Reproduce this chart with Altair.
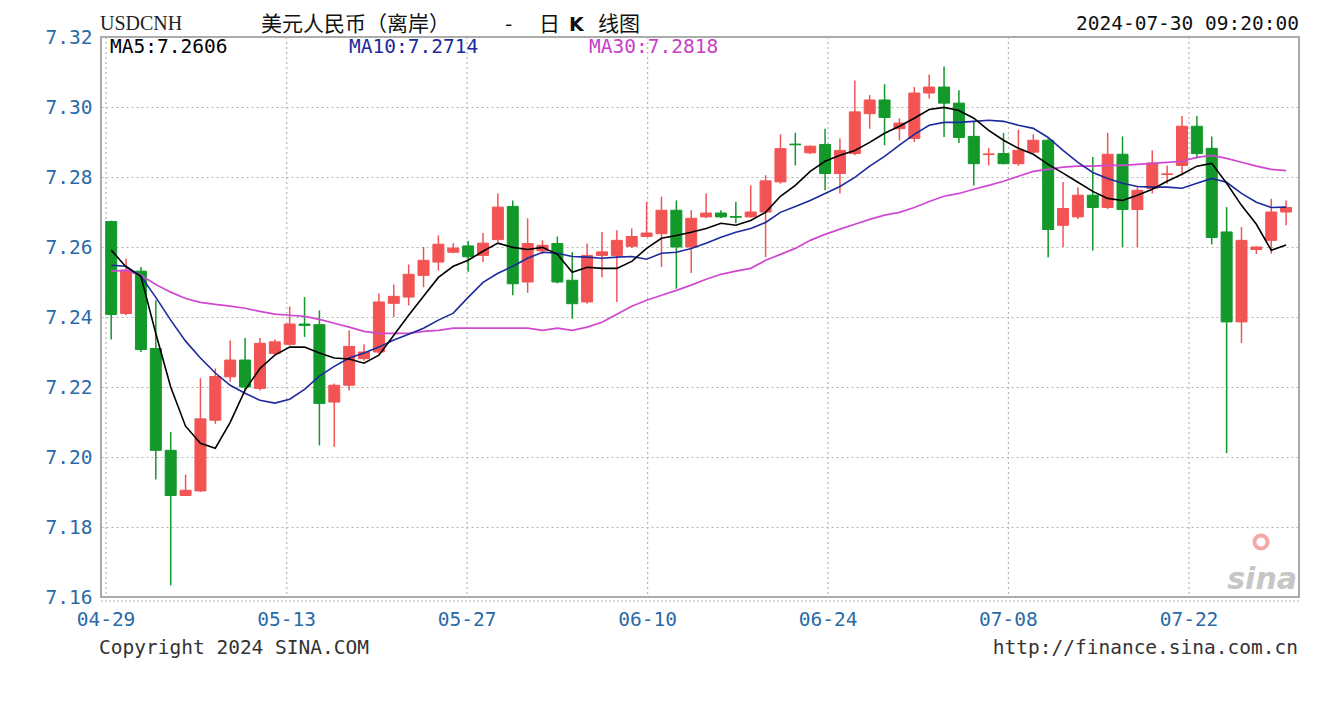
import altair as alt
import pandas as pd

# ---------------- data ----------------
opens = [7.2673, 7.2410, 7.2531, 7.2310, 7.2019, 7.1890, 7.1903, 7.2105, 7.2229, 7.2277,
         7.2196, 7.2296, 7.2322, 7.2380, 7.2378, 7.2157, 7.2205, 7.2281, 7.2300, 7.2439,
         7.2457, 7.2519, 7.2557, 7.2585, 7.2603, 7.2576, 7.2621, 7.2716, 7.2500, 7.2589,
         7.2610, 7.2505, 7.2443, 7.2576, 7.2576, 7.2602, 7.2630, 7.2638, 7.2705, 7.2600,
         7.2686, 7.2697, 7.2687, 7.2686, 7.2700, 7.2786, 7.2894, 7.2869, 7.2893, 7.2810,
         7.2867, 7.2981, 7.3020, 7.2938, 7.2910, 7.3040, 7.3057, 7.3011, 7.2916, 7.2864,
         7.2867, 7.2838, 7.2871, 7.2905, 7.2662, 7.2686, 7.2748, 7.2713, 7.2865, 7.2707,
         7.2767, 7.2807, 7.2833, 7.2945, 7.2882, 7.2643, 7.2386, 7.2593, 7.2619, 7.2700]

closes = [7.2407, 7.2534, 7.2307, 7.2019, 7.1890, 7.1905, 7.2109, 7.2230, 7.2277, 7.2200,
          7.2325, 7.2329, 7.2380, 7.2376, 7.2153, 7.2205, 7.2316, 7.2300, 7.2443, 7.2459,
          7.2522, 7.2562, 7.2608, 7.2597, 7.2572, 7.2611, 7.2714, 7.2495, 7.2610, 7.2605,
          7.2500, 7.2438, 7.2576, 7.2586, 7.2619, 7.2630, 7.2640, 7.2705, 7.2600, 7.2682,
          7.2697, 7.2686, 7.2685, 7.2700, 7.2789, 7.2881, 7.2892, 7.2888, 7.2810, 7.2876,
          7.2986, 7.3020, 7.2970, 7.2954, 7.3040, 7.3057, 7.3011, 7.2913, 7.2838, 7.2866,
          7.2838, 7.2876, 7.2905, 7.2650, 7.2710, 7.2748, 7.2713, 7.2865, 7.2707, 7.2762,
          7.2840, 7.2809, 7.2945, 7.2867, 7.2627, 7.2386, 7.2619, 7.2600, 7.2700, 7.2713]

highs = [7.2675, 7.2567, 7.2543, 7.2448, 7.2071, 7.1950, 7.2225, 7.2253, 7.2333, 7.2340,
         7.2340, 7.2336, 7.2430, 7.2457, 7.2419, 7.2210, 7.2362, 7.2322, 7.2467, 7.2493,
         7.2550, 7.2600, 7.2633, 7.2611, 7.2617, 7.2640, 7.2753, 7.2733, 7.2682, 7.2619,
         7.2630, 7.2586, 7.2610, 7.2643, 7.2648, 7.2653, 7.2729, 7.2744, 7.2733, 7.2705,
         7.2753, 7.2705, 7.2729, 7.2776, 7.2805, 7.2922, 7.2926, 7.2890, 7.2938, 7.2910,
         7.3076, 7.3034, 7.3065, 7.2967, 7.3057, 7.3093, 7.3116, 7.3048, 7.2957, 7.2883,
         7.2926, 7.2935, 7.2922, 7.2910, 7.2786, 7.2771, 7.2857, 7.2926, 7.2916, 7.2771,
         7.2876, 7.2833, 7.2974, 7.2974, 7.2916, 7.2714, 7.2657, 7.2602, 7.2738, 7.2733]

lows = [7.2336, 7.2405, 7.2300, 7.1936, 7.1633, 7.1890, 7.1900, 7.2095, 7.2215, 7.2190,
        7.2190, 7.2290, 7.2318, 7.2343, 7.2033, 7.2029, 7.2190, 7.2275, 7.2295, 7.2400,
        7.2433, 7.2485, 7.2533, 7.2582, 7.2529, 7.2557, 7.2614, 7.2462, 7.2469, 7.2580,
        7.2496, 7.2395, 7.2438, 7.2513, 7.2443, 7.2597, 7.2628, 7.2543, 7.2481, 7.2526,
        7.2683, 7.2683, 7.2668, 7.2684, 7.2571, 7.2781, 7.2833, 7.2866, 7.2762, 7.2753,
        7.2862, 7.2938, 7.2891, 7.2905, 7.2900, 7.3024, 7.2914, 7.2897, 7.2776, 7.2833,
        7.2836, 7.2832, 7.2868, 7.2570, 7.2600, 7.2680, 7.2590, 7.2708, 7.2600, 7.2600,
        7.2753, 7.2781, 7.2805, 7.2853, 7.2607, 7.2011, 7.2326, 7.2580, 7.2581, 7.2662]

ma5 = [7.2591, 7.2543, 7.2516, 7.2353, 7.2200, 7.2088, 7.2039, 7.2025, 7.2099, 7.2191,
       7.2253, 7.2291, 7.2314, 7.2314, 7.2297, 7.2283, 7.2280, 7.2268, 7.2291, 7.2348,
       7.2405, 7.2459, 7.2513, 7.2545, 7.2562, 7.2588, 7.2611, 7.2599, 7.2593, 7.2599,
       7.2579, 7.2528, 7.2542, 7.2539, 7.2539, 7.2559, 7.2596, 7.2625, 7.2633, 7.2642,
       7.2653, 7.2668, 7.2662, 7.2676, 7.2699, 7.2745, 7.2776, 7.2816, 7.2845, 7.2862,
       7.2876, 7.2899, 7.2925, 7.2945, 7.2968, 7.2993, 7.2999, 7.2990, 7.2968, 7.2933,
       7.2905, 7.2882, 7.2865, 7.2836, 7.2811, 7.2785, 7.2759, 7.2739, 7.2733, 7.2748,
       7.2765, 7.2788, 7.2808, 7.2831, 7.2839, 7.2782, 7.2719, 7.2665, 7.2591, 7.2606]

ma10 = [7.2548, 7.2545, 7.2516, 7.2456, 7.2391, 7.2331, 7.2283, 7.2240, 7.2205, 7.2182,
        7.2162, 7.2154, 7.2165, 7.2193, 7.2231, 7.2259, 7.2283, 7.2297, 7.2314, 7.2334,
        7.2351, 7.2368, 7.2391, 7.2411, 7.2456, 7.2499, 7.2525, 7.2545, 7.2568, 7.2585,
        7.2582, 7.2573, 7.2571, 7.2568, 7.2571, 7.2573, 7.2565, 7.2582, 7.2585, 7.2596,
        7.2611, 7.2628, 7.2642, 7.2653, 7.2670, 7.2699, 7.2716, 7.2733, 7.2753, 7.2773,
        7.2799, 7.2831, 7.2859, 7.2891, 7.2922, 7.2948, 7.2956, 7.2956, 7.2959, 7.2962,
        7.2959, 7.2948, 7.2939, 7.2913, 7.2876, 7.2842, 7.2813, 7.2796, 7.2782, 7.2773,
        7.2771, 7.2771, 7.2768, 7.2782, 7.2796, 7.2785, 7.2753, 7.2728, 7.2713, 7.2714]

ma30 = [7.2531, 7.2533, 7.2519, 7.2493, 7.2471, 7.2453, 7.2442, 7.2436, 7.2431, 7.2425,
        7.2416, 7.2408, 7.2405, 7.2402, 7.2393, 7.2382, 7.2371, 7.2359, 7.2353, 7.2353,
        7.2353, 7.2359, 7.2362, 7.2368, 7.2368, 7.2368, 7.2368, 7.2368, 7.2368, 7.2362,
        7.2368, 7.2362, 7.2371, 7.2385, 7.2408, 7.2431, 7.2448, 7.2462, 7.2476, 7.2491,
        7.2508, 7.2522, 7.2531, 7.2539, 7.2562, 7.2579, 7.2596, 7.2619, 7.2636, 7.2651,
        7.2665, 7.2679, 7.2691, 7.2699, 7.2713, 7.2730, 7.2745, 7.2753, 7.2765, 7.2776,
        7.2788, 7.2802, 7.2816, 7.2822, 7.2828, 7.2831, 7.2831, 7.2833, 7.2833, 7.2836,
        7.2839, 7.2842, 7.2845, 7.2856, 7.2862, 7.2853, 7.2842, 7.2831, 7.2822, 7.2818]

date_labels = ["04-29", "05-13", "05-27", "06-10", "06-24", "07-08", "07-22"]
date_pos = [-0.35, 11.8, 23.93, 36.07, 48.2, 60.33, 72.47]
y_ticks = [7.16, 7.18, 7.20, 7.22, 7.24, 7.26, 7.28, 7.30, 7.32]

# ---------------- styling ----------------
RED = "#f25454"
GREEN = "#13982a"
BLUE_LBL = "#2a6aa8"
MA5_C = "#000000"
MA10_C = "#1c2a9c"
MA30_C = "#d048d0"
GRID = "#b4b4b4"
MONO = "DejaVu Sans Mono"
CJK = "Noto Sans CJK SC"
W, H = 1198, 560

n = len(opens)
df = pd.DataFrame({
    "i": list(range(n)), "open": opens, "high": highs, "low": lows, "close": closes,
    "ma5": ma5, "ma10": ma10, "ma30": ma30,
})
df["dir"] = ["up" if c >= o else "down" for o, c in zip(opens, closes)]
grid_df = pd.DataFrame({"pos": date_pos, "label": date_labels})

xs = alt.Scale(domain=[-0.35, 79.53], nice=False, zero=False)
ys = alt.Scale(domain=[7.16, 7.32], nice=False, zero=False)
cscale = alt.Scale(domain=["up", "down"], range=[RED, GREEN])

yaxis = alt.Axis(values=y_ticks, format=".2f", labelFont=MONO, labelFontSize=19.5,
                 labelColor=BLUE_LBL, ticks=False, domain=False, grid=True,
                 gridDash=[2, 3], gridColor=GRID, gridWidth=1.2, labelPadding=9,
                 title=None, labelFlush=False)

base = alt.Chart(df)

vgrid = alt.Chart(grid_df).mark_rule(strokeDash=[2, 3], color=GRID, strokeWidth=1.2).encode(
    x=alt.X("pos:Q", scale=xs, axis=None)
)
date_text = alt.Chart(grid_df).mark_text(font=MONO, fontSize=19.5, color=BLUE_LBL,
                                         baseline="middle").encode(
    x=alt.X("pos:Q", scale=xs, axis=None), y=alt.value(H + 23), text="label:N"
)

wick = base.mark_rule(strokeWidth=1.5).encode(
    x=alt.X("i:Q", scale=xs, axis=None),
    y=alt.Y("low:Q", scale=ys, axis=yaxis),
    y2="high:Q",
    color=alt.Color("dir:N", scale=cscale, legend=None),
)
body = base.mark_bar(size=11, strokeWidth=1).encode(
    x=alt.X("i:Q", scale=xs, axis=None),
    y=alt.Y("open:Q", scale=ys, axis=yaxis),
    y2="close:Q",
    fill=alt.Fill("dir:N", scale=cscale, legend=None),
    stroke=alt.Stroke("dir:N", scale=cscale, legend=None),
)


def ma_line(field, color, width):
    return base.mark_line(color=color, strokeWidth=width).encode(
        x=alt.X("i:Q", scale=xs, axis=None),
        y=alt.Y(f"{field}:Q", scale=ys, axis=yaxis),
    )


line30 = ma_line("ma30", MA30_C, 1.7)
line10 = ma_line("ma10", MA10_C, 1.6)
line5 = ma_line("ma5", MA5_C, 1.6)

one = pd.DataFrame({"a": [0]})


def label(text, x, y, color="#111111", font=MONO, size=19.5, align="left", **kw):
    return alt.Chart(one).mark_text(font=font, fontSize=size, color=color, align=align,
                                    baseline="middle", **kw).encode(
        x=alt.value(x), y=alt.value(y), text=alt.value(text)
    )


texts = [
    label("USDCNH", -1, -13, font="Liberation Serif", size=20, color="#222222"),
    label("美元人民币（离岸）", 160, -12, font=CJK, size=21, color="#111111"),
    label("-", 404, -12, font=CJK, size=21, color="#111111"),
    label("日", 438, -12, font=CJK, size=21, color="#111111"),
    label("K", 468, -12, font="DejaVu Sans", size=19, color="#111111", fontWeight="bold"),
    label("线图", 497, -12, font=CJK, size=21, color="#111111"),
    label("2024-07-30 09:20:00", W, -13, align="right", color="#111111"),
    label("MA5:7.2606", 9, 10, color=MA5_C),
    label("MA10:7.2714", 248, 10, color=MA10_C),
    label("MA30:7.2818", 488, 10, color="#c83ec8"),
    label("Copyright 2024 SINA.COM", -2, 611, color="#333333"),
    label("http://finance.sina.com.cn", W - 1, 611, align="right", color="#333333"),
    label("sina", W - 2, 543, font="DejaVu Sans", size=30, align="right",
          color="#c6c6c6", fontStyle="italic", fontWeight="bold"),
]

eye = alt.Chart(one).mark_point(shape="circle", filled=False, strokeWidth=4,
                                color="#f09a9a", size=170, opacity=0.85).encode(
    x=alt.value(1160), y=alt.value(505)
)

bottom_dots = alt.Chart(one).mark_rule(strokeDash=[2, 2], color=GRID, strokeWidth=1.2).encode(
    x=alt.value(0), x2=alt.value(W), y=alt.value(H + 4)
)

chart = alt.layer(
    vgrid, bottom_dots, wick, body, line30, line10, line5, date_text, eye, *texts
).properties(
    width=W, height=H,
    autosize=alt.AutoSizeParams(type="none"),
    padding={"left": 93, "top": 29, "right": 5, "bottom": 90},
    background="white",
).configure_view(
    stroke="#8e8e8e", strokeWidth=1.5
)

chart.save("out.html", embed_options={"renderer": "svg", "actions": False})
